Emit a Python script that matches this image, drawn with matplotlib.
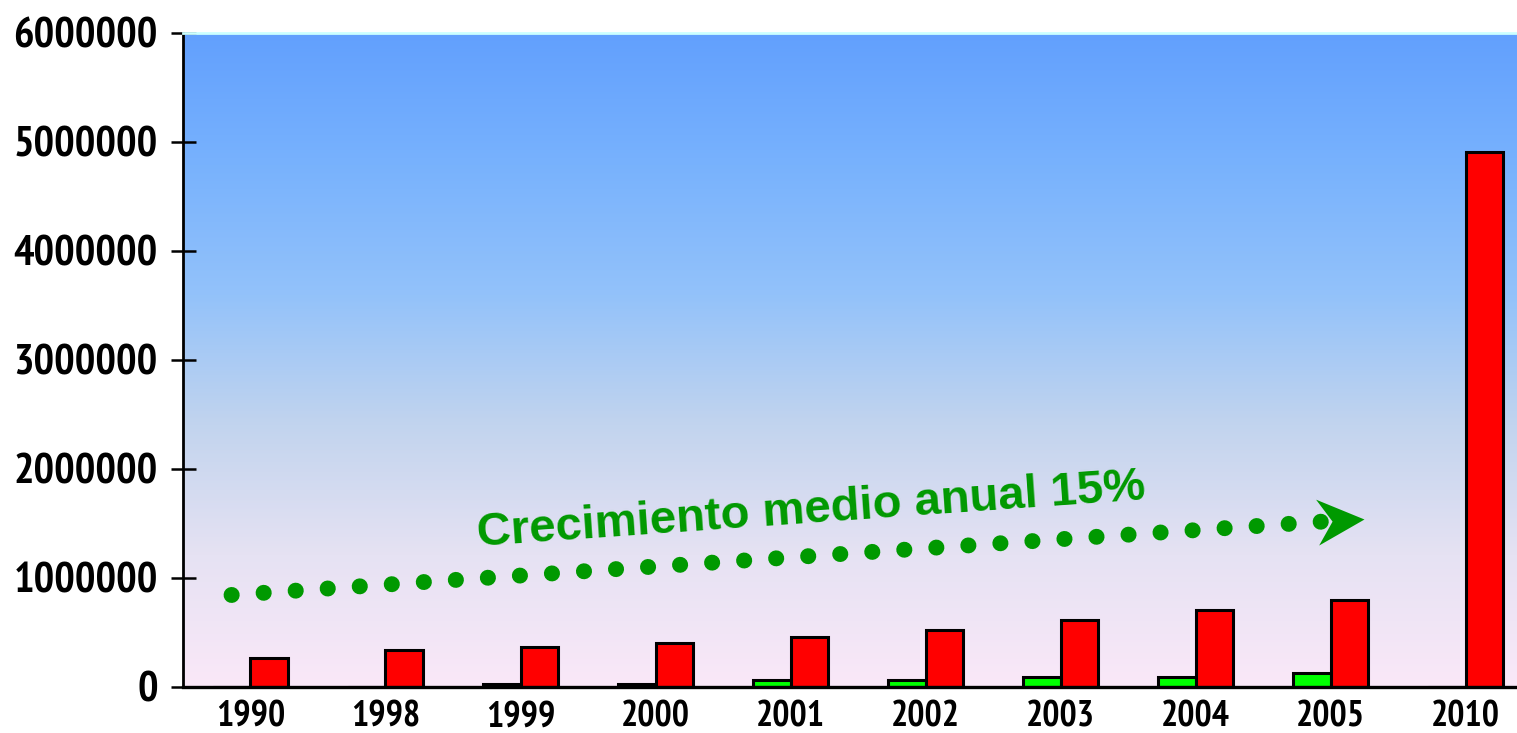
import numpy as np
import matplotlib
matplotlib.use('Agg')
import matplotlib.pyplot as plt
from matplotlib.colors import LinearSegmentedColormap
from matplotlib.path import Path

# datos
years = ['1990', '1998', '1999', '2000', '2001', '2002', '2003', '2004', '2005', '2010']
green_values = [0, 0, 30000, 30000, 60000, 60000, 92000, 92000, 128000, 0]
red_values = [270000, 340000, 367000, 404000, 459000, 523000, 615000, 706000, 798000, 4910000]
y_ticks = [0, 1000000, 2000000, 3000000, 4000000, 5000000, 6000000]

trend_text = 'Crecimiento medio anual 15%'
trend_start = (-0.14, 844000)
trend_end = (7.95, 1518000)
arrow_tip = (8.25, 1541000)

narrow = ['PT Sans Narrow', 'DejaVu Sans']

fig = plt.figure(figsize=(15.17, 7.33), dpi=100)
ax = fig.add_axes([0.1206, 0.0628, 0.8794, 0.8922])

# fondo degradado
bg = LinearSegmentedColormap.from_list('bg', [
    (0.0, '#FAE8F8'),
    (0.2, '#E6E2F3'),
    (0.4, '#C2D4EE'),
    (0.6, '#93C2FA'),
    (0.8, '#78B2FD'),
    (1.0, '#62A0FE'),
])
grad = np.linspace(0, 1, 256).reshape(-1, 1)
ax.imshow(grad, cmap=bg, origin='lower', extent=[0, 1, 0, 1], transform=ax.transAxes,
          aspect='auto', zorder=0)

x = np.arange(len(years))
w = 0.28
ax.bar(x - w / 2, green_values, width=w, color='#00FF00', edgecolor='black', linewidth=2.2, zorder=3)
ax.bar(x + w / 2, red_values, width=w, color='#FF0000', edgecolor='black', linewidth=2.2, zorder=3)

ax.set_xlim(-0.5, 9.38)
ax.set_ylim(0, 6000000)
ax.set_xticks(x)
ax.set_xticklabels(years)
ax.set_yticks(y_ticks)
ax.set_yticklabels([str(v) for v in y_ticks])

for lab in ax.get_yticklabels():
    lab.set_family(narrow)
    lab.set_fontweight('bold')
    lab.set_fontsize(31)
for lab in ax.get_xticklabels():
    lab.set_family(narrow)
    lab.set_fontweight('bold')
    lab.set_fontsize(26)

ax.tick_params(axis='y', direction='inout', length=18, width=1.8, pad=9)
ax.tick_params(axis='x', length=0, pad=10)

ax.spines['right'].set_visible(False)
ax.spines['top'].set_color('#CCFFFF')
ax.spines['top'].set_linewidth(2)
ax.spines['left'].set_linewidth(2.0)
ax.spines['bottom'].set_linewidth(2.4)
for s in ax.spines.values():
    s.set_zorder(4)

# linea de puntos con flecha
ax.plot([trend_start[0], trend_end[0]], [trend_start[1], trend_end[1]], color='#009900',
        linewidth=11.5, linestyle=(0, (0.01, 2.0)), dash_capstyle='round', zorder=5)

ang = np.deg2rad(3.8)
verts = np.array([[0, 0], [-47, 23], [-32, 0], [-47, -23], [0, 0]], dtype=float)
rot = np.array([[np.cos(ang), -np.sin(ang)], [np.sin(ang), np.cos(ang)]])
verts = verts @ rot.T
head = Path(verts, [Path.MOVETO, Path.LINETO, Path.LINETO, Path.LINETO, Path.CLOSEPOLY])
msize = 2 * np.max(np.abs(verts)) * 72 / 100
ax.plot([arrow_tip[0]], [arrow_tip[1]], marker=head, markersize=msize, color='#009900',
        markeredgewidth=0, linestyle='none', zorder=5)

ax.text(4.15, 1620000, trend_text, color='#009900', fontsize=34, fontweight='bold',
        family=['Liberation Sans', 'DejaVu Sans'], ha='center', va='center', rotation=4,
        rotation_mode='anchor', zorder=5)

fig.savefig('out.png', dpi=100)
